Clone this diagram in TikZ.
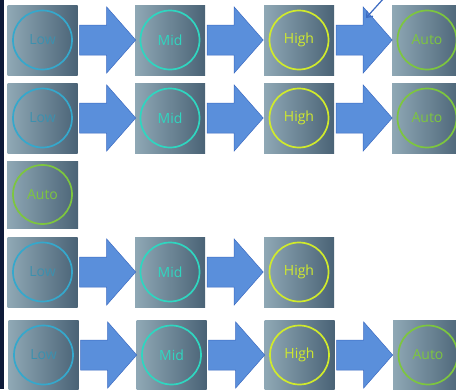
\documentclass[tikz,border=0pt]{standalone}
\usepackage{fontspec}
\setmainfont{Open Sans}
\usetikzlibrary{arrows.meta,calc}
\definecolor{tileL}{HTML}{8FA8B5}
\definecolor{tileR}{HTML}{4A6376}
\definecolor{lowc}{HTML}{35A8CC}
\definecolor{midc}{HTML}{2FD6C0}
\definecolor{highc}{HTML}{D0EA2C}
\definecolor{autoc}{HTML}{7DC63E}
\definecolor{arrf}{HTML}{5A8FDB}
\definecolor{arrd}{HTML}{3C6BC2}
\definecolor{navy}{HTML}{0E1A38}
\tikzset{
  tile/.style={minimum width=70pt, minimum height=70pt, inner sep=0pt, left color=tileL, right color=tileR, font=\fontsize{14}{14}\selectfont},
  lowtxt/.style={text=lowc!65!tileR},
  ring/.style={line width=1.7pt},
  blockarr/.style={fill=arrf, draw=arrd, line width=0.5pt, line join=miter},
  ptr/.style={draw=arrd, line width=1.2pt, -{Straight Barb[length=5pt,width=8pt]}}
}
\newcommand{\bigarrow}[1]{%
  \path[blockarr] ($(#1.east)+(2,-15)$) -- ++(27,0) -- ++(0,-18) -- ++(29,33) -- ++(-29,33) -- ++(0,-18) -- ++(-27,0) -- cycle;}
\begin{document}
\begin{tikzpicture}[x=1pt,y=-1pt]
\useasboundingbox (0,0) rectangle (456,389);
\clip (0,0) rectangle (456,389);
\fill[white] (0,0) rectangle (456,389);
\fill[navy] (0,0) rectangle (4,389);
% row 1
\node[tile, lowtxt] (a1) at (42.5,40) {Low};
\node[tile, text=midc] (b1) at (170,40) {Mid};
\node[tile, text=highc] (c1) at (299,40) {High};
\node[tile, text=autoc] (d1) at (427,40) {Auto};
% row 2
\node[tile, lowtxt] (a2) at (42.5,118) {Low};
\node[tile, text=midc] (b2) at (170,118) {Mid};
\node[tile, text=highc] (c2) at (299,118) {High};
\node[tile, text=autoc] (d2) at (427,118) {Auto};
% row 3
\node[tile, text=autoc, minimum width=71pt, minimum height=67pt] (a3) at (42.5,194.5) {Auto};
% row 4
\node[tile, lowtxt] (a4) at (42.5,272) {Low};
\node[tile, text=midc] (b4) at (170,272) {Mid};
\node[tile, text=highc] (c4) at (299,272) {High};
% row 5
\node[tile, lowtxt] (a5) at (43.5,355) {Low};
\node[tile, text=midc] (b5) at (171.5,355) {Mid};
\node[tile, text=highc] (c5) at (299.5,355) {High};
\node[tile, text=autoc] (d5) at (428,355) {Auto};
% rings
\foreach \n in {a1,a2,a4,a5} {\draw[ring,lowc] (\n.center) circle (29.5pt);}
\foreach \n in {b1,b2,b4,b5} {\draw[ring,midc] (\n.center) circle (29.5pt);}
\foreach \n in {c1,c2,c4,c5} {\draw[ring,highc] (\n.center) circle (29.5pt);}
\foreach \n in {d1,d2,a3,d5} {\draw[ring,autoc] (\n.center) circle (29.5pt);}
% arrows
\foreach \n in {a1,b1,c1,a2,b2,c2,a4,b4,a5,b5,c5} {\bigarrow{\n}}
% pointer
\coordinate (p0) at (384,-2);
\coordinate (p1) at (366,18);
\draw[ptr] (p0) -- (p1);
\end{tikzpicture}
\end{document}
